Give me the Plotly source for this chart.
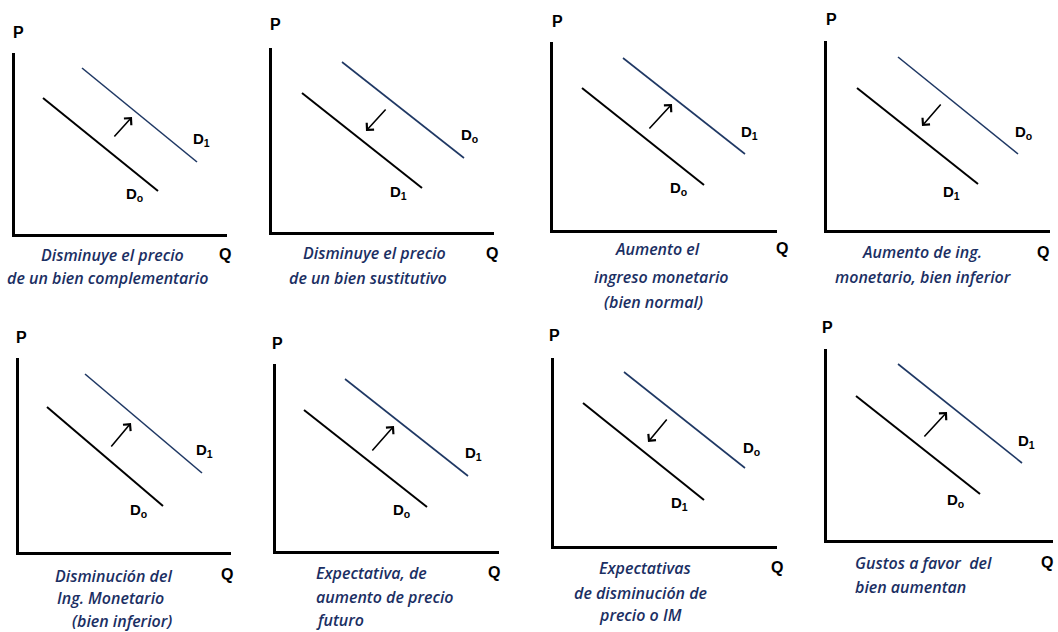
import plotly.graph_objects as go

W, H = 1058, 632

# ---- data (per panel, in axis units measured from each panel's origin) ----
shift = ["up", "down", "up", "down", "up", "up", "down", "up"]

# black demand line endpoints (Q, P)
black_q = [[28, 143], [30, 150], [29, 151], [30, 151], [28, 144], [28, 151], [29, 150], [29, 153]]
black_p = [[136, 43], [139, 44], [142, 45], [142, 46], [145, 46], [141, 44], [143, 46], [144, 46]]
# blue demand line endpoints (Q, P)
blue_q = [[67, 182], [70, 192], [70, 192], [71, 191], [66, 183], [69, 192], [70, 191], [71, 195]]
blue_p = [[166, 72], [170, 74], [172, 76], [173, 76], [178, 79], [172, 75], [174, 78], [176, 77]]
# shift arrows: tail (Q, P) -> head (Q, P)
arrow_tail_q = [98, 115, 95, 115, 91, 95, 114, 96]
arrow_tail_p = [96, 124, 100, 127, 104, 99, 128, 102]
arrow_head_q = [117, 94, 119, 95, 112, 118, 94, 120]
arrow_head_p = [117, 101, 126, 104, 129, 125, 104, 128]

captions = [
    ["Disminuye el precio", "de un bien complementario"],
    ["Disminuye el precio", "de un bien sustitutivo"],
    ["Aumento el", "ingreso monetario", "(bien normal)"],
    ["Aumento de ing.", "monetario, bien inferior"],
    ["Disminución del", "Ing. Monetario", "(bien inferior)"],
    ["Expectativa, de", "aumento de precio", "futuro"],
    ["Expectativas", "de disminución de", "precio o IM"],
    ["Gustos a favor  del", "bien aumentan"],
]

# ---- layout geometry (pixels) ----
# x0 = y-axis x, x1 = x-axis end, yt = y-axis top, yb = x-axis y
frames = [
    (15, 227, 53, 234), (272, 494, 48, 232), (553, 777, 42, 230), (827, 1050, 41, 230),
    (19, 231, 358, 552), (276, 499, 364, 551), (554, 777, 358, 546), (827, 1053, 349, 540),
]
p_pos = [(18, 32), (275, 25), (557, 22), (831, 19), (21, 337), (277, 343), (554, 336), (827, 327)]
q_pos = [(225, 255), (492, 253), (782, 248), (1043, 252), (227, 574), (494, 572), (777, 567), (1047, 562)]
blue_lbl = [(201, 140), (469, 135), (749, 132), (1023, 132), (204, 450), (473, 453), (751, 448), (1026, 442)]
black_lbl = [(134, 194), (398, 192), (678, 188), (951, 192), (138, 510), (401, 510), (679, 503), (955, 500)]
cap_pos = [
    [(112, 255, "center"), (107, 278, "center")],
    [(374, 253, "center"), (368, 278, "center")],
    [(657, 249, "center"), (661, 277, "center"), (653, 302, "center")],
    [(922, 252, "center"), (923, 277, "center")],
    [(113, 576, "center"), (110, 598, "center"), (122, 621, "center")],
    [(314, 573, "left"), (314, 597, "left"), (314, 620, "left")],
    [(645, 568, "center"), (640, 593, "center"), (640, 615, "center")],
    [(853, 563, "left"), (853, 587, "left")],
]

NAVY = "#1F3864"
CAP = "#1B2F63"


def px(x):
    return x / W


def py(y):
    return 1 - y / H


fig = go.Figure()
annotations = []

for i in range(8):
    x0, x1, yt, yb = frames[i]
    n = "" if i == 0 else str(i + 1)
    xa, ya = "x" + n, "y" + n
    fig.update_layout(**{
        "xaxis" + n: dict(domain=[px(x0), px(x1)], range=[0, x1 - x0], anchor=ya,
                          showline=True, linecolor="black", linewidth=2.5,
                          showgrid=False, zeroline=False, showticklabels=False, ticks="",
                          fixedrange=True),
        "yaxis" + n: dict(domain=[py(yb), py(yt)], range=[0, yb - yt], anchor=xa,
                          showline=True, linecolor="black", linewidth=2.5,
                          showgrid=False, zeroline=False, showticklabels=False, ticks="",
                          fixedrange=True),
    })
    fig.add_trace(go.Scatter(x=black_q[i], y=black_p[i], mode="lines",
                             line=dict(color="black", width=2), xaxis=xa, yaxis=ya,
                             hoverinfo="skip", showlegend=False, cliponaxis=False))
    fig.add_trace(go.Scatter(x=blue_q[i], y=blue_p[i], mode="lines",
                             line=dict(color=NAVY, width=1.6), xaxis=xa, yaxis=ya,
                             hoverinfo="skip", showlegend=False, cliponaxis=False))
    annotations.append(dict(x=arrow_head_q[i], y=arrow_head_p[i], ax=arrow_tail_q[i], ay=arrow_tail_p[i],
                            xref=xa, yref=ya, axref=xa, ayref=ya, text="", showarrow=True,
                            arrowhead=4, arrowsize=1.2, arrowwidth=1.6, arrowcolor="black"))
    up = shift[i] == "up"
    blue_name = "D<sub>1</sub>" if up else "D<sub>o</sub>"
    black_name = "D<sub>o</sub>" if up else "D<sub>1</sub>"
    for (lx, ly), name in ((blue_lbl[i], blue_name), (black_lbl[i], black_name)):
        annotations.append(dict(x=px(lx), y=py(ly), xref="paper", yref="paper", text="<b>" + name + "</b>",
                                showarrow=False, xanchor="center", yanchor="middle",
                                font=dict(family="Liberation Sans, Arial", size=15, color="black")))
    for (lx, ly), t in ((p_pos[i], "P"), (q_pos[i], "Q")):
        annotations.append(dict(x=px(lx), y=py(ly), xref="paper", yref="paper", text="<b>" + t + "</b>",
                                showarrow=False, xanchor="center", yanchor="middle",
                                font=dict(family="Liberation Sans, Arial", size=16, color="black")))
    for line, (cx, cy, anc) in zip(captions[i], cap_pos[i]):
        annotations.append(dict(x=px(cx), y=py(cy), xref="paper", yref="paper", text="<i>" + line + "</i>",
                                showarrow=False, xanchor=anc, yanchor="middle",
                                font=dict(family="Open Sans", size=16, color=CAP, style="italic",
                                          weight=600)))

fig.update_layout(width=W, height=H, margin=dict(l=0, r=0, t=0, b=0),
                  paper_bgcolor="white", plot_bgcolor="white", showlegend=False,
                  annotations=annotations)

fig.write_html("out.html", config={"displayModeBar": False},
               post_script="document.body.style.margin='0';document.body.style.overflow='hidden';")
